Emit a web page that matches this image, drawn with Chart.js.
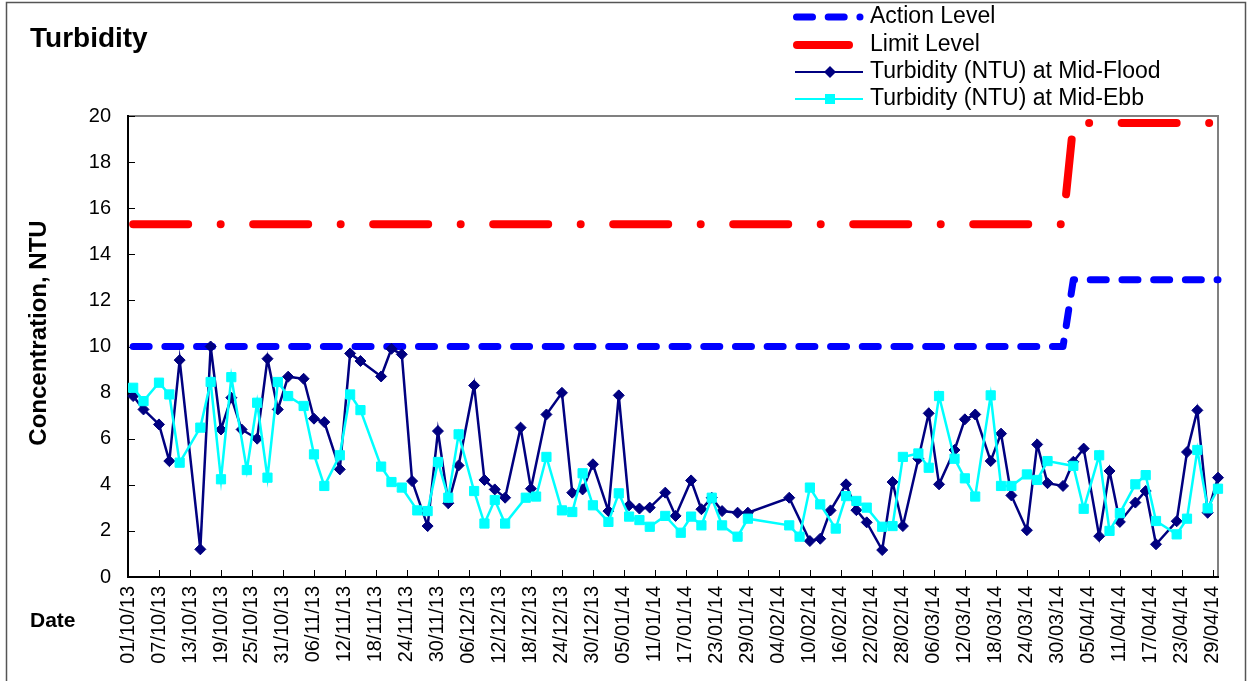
<!DOCTYPE html>
<html>
<head>
<meta charset="utf-8">
<title>Turbidity</title>
<script src="https://cdn.jsdelivr.net/npm/chart.js@4.4.0/dist/chart.umd.min.js"></script>
<style>
  html, body { margin: 0; padding: 0; background: #fff; }
  #wrap { width: 1248px; height: 681px; }
</style>
</head>
<body>
<div id="wrap"><canvas id="chart" width="1248" height="681"></canvas></div>
<script>
// sampling dates are dd/mm/yy, the axis starts on 01/10/13
let floodDates = [
  '02/10/13','04/10/13','07/10/13','09/10/13','11/10/13','15/10/13','17/10/13','19/10/13','21/10/13','23/10/13','26/10/13','28/10/13','30/10/13',
  '01/11/13','04/11/13','06/11/13','08/11/13','11/11/13','13/11/13','15/11/13','19/11/13','21/11/13','23/11/13','25/11/13','28/11/13','30/11/13',
  '02/12/13','04/12/13','07/12/13','09/12/13','11/12/13','13/12/13','16/12/13','18/12/13','21/12/13','24/12/13','26/12/13','28/12/13','30/12/13',
  '02/01/14','04/01/14','06/01/14','08/01/14','10/01/14','13/01/14','15/01/14','18/01/14','20/01/14','22/01/14','24/01/14','27/01/14','29/01/14',
  '06/02/14','10/02/14','12/02/14','14/02/14','17/02/14','19/02/14','21/02/14','24/02/14','26/02/14','28/02/14',
  '03/03/14','05/03/14','07/03/14','10/03/14','12/03/14','14/03/14','17/03/14','19/03/14','21/03/14','24/03/14','26/03/14','28/03/14','31/03/14',
  '02/04/14','04/04/14','07/04/14','09/04/14','11/04/14','14/04/14','16/04/14','18/04/14','22/04/14','24/04/14','26/04/14','28/04/14','30/04/14'
];
let floodValues = [
  7.85, 7.27, 6.62, 5.03, 9.41, 1.20, 10.0, 6.40, 7.78, 6.40, 6.0, 9.47, 7.27,
  8.69, 8.60, 6.87, 6.72, 4.67, 9.70, 9.37, 8.70, 9.90, 9.66, 4.16, 2.21, 6.33,
  3.20, 4.84, 8.31, 4.21, 3.80, 3.44, 6.48, 3.83, 7.05, 7.99, 3.66, 3.80, 4.89,
  2.86, 7.88, 3.11, 2.97, 3.01, 3.66, 2.65, 4.19, 2.94, 3.44, 2.86, 2.79, 2.79,
  3.44, 1.56, 1.66, 2.89, 4.02, 2.90, 2.37, 1.17, 4.12, 2.21,
  5.13, 7.10, 4.02, 5.51, 6.84, 7.05, 5.03, 6.22, 3.54, 2.03, 5.75, 4.07, 3.95,
  5.0, 5.57, 1.77, 4.6, 2.39, 3.23, 3.73, 1.42, 2.42, 5.42, 7.23, 2.79, 4.31
];
let ebbDates = [
  '02/10/13','04/10/13','07/10/13','09/10/13','11/10/13','15/10/13','17/10/13','19/10/13','21/10/13','24/10/13','26/10/13','28/10/13','30/10/13',
  '01/11/13','04/11/13','06/11/13','08/11/13','11/11/13','13/11/13','15/11/13','19/11/13','21/11/13','23/11/13','26/11/13','28/11/13','30/11/13',
  '02/12/13','04/12/13','07/12/13','09/12/13','11/12/13','13/12/13','17/12/13','19/12/13','21/12/13','24/12/13','26/12/13','28/12/13','30/12/13',
  '02/01/14','04/01/14','06/01/14','08/01/14','10/01/14','13/01/14','16/01/14','18/01/14','20/01/14','22/01/14','24/01/14','27/01/14','29/01/14',
  '06/02/14','08/02/14','10/02/14','12/02/14','15/02/14','17/02/14','19/02/14','21/02/14','24/02/14','26/02/14','28/02/14',
  '03/03/14','05/03/14','07/03/14','10/03/14','12/03/14','14/03/14','17/03/14','19/03/14','21/03/14','24/03/14','26/03/14','28/03/14',
  '02/04/14','04/04/14','07/04/14','09/04/14','11/04/14','14/04/14','16/04/14','18/04/14','22/04/14','24/04/14','26/04/14','28/04/14','30/04/14'
];
let ebbValues = [
  8.21, 7.63, 8.43, 7.92, 4.96, 6.48, 8.46, 4.24, 8.67, 4.64, 7.56, 4.31, 8.46,
  7.85, 7.42, 5.32, 3.95, 5.28, 7.92, 7.24, 4.79, 4.12, 3.88, 2.89, 2.86, 4.99,
  3.44, 6.19, 3.73, 2.32, 3.34, 2.32, 3.44, 3.49, 5.21, 2.89, 2.82, 4.50, 3.11,
  2.39, 3.63, 2.62, 2.47, 2.18, 2.65, 1.92, 2.62, 2.24, 3.44, 2.24, 1.75, 2.53,
  2.24, 1.75, 3.88, 3.15, 2.10, 3.51, 3.30, 3.01, 2.18, 2.21, 5.21,
  5.36, 4.74, 7.85, 5.13, 4.28, 3.49, 7.88, 3.95, 3.95, 4.45, 4.21, 5.03,
  4.82, 2.96, 5.28, 2.0, 2.77, 4.02, 4.42, 2.43, 1.85, 2.53, 5.51, 2.98, 3.83
];
let actionDates = ['02/10/13', '31/03/14', '02/04/14', '30/04/14'];
let actionValues = [10, 10, 12.9, 12.9];
let limitDates = ['02/10/13', '31/03/14', '02/04/14', '30/04/14'];
let limitValues = [15.3, 15.3, 19.7, 19.7];

let xTickLabels = [
  '01/10/13','07/10/13','13/10/13','19/10/13','25/10/13','31/10/13',
  '06/11/13','12/11/13','18/11/13','24/11/13','30/11/13',
  '06/12/13','12/12/13','18/12/13','24/12/13','30/12/13',
  '05/01/14','11/01/14','17/01/14','23/01/14','29/01/14',
  '04/02/14','10/02/14','16/02/14','22/02/14','28/02/14',
  '06/03/14','12/03/14','18/03/14','24/03/14','30/03/14',
  '05/04/14','11/04/14','17/04/14','23/04/14','29/04/14'
];
let xEnd = '30/04/14';
let yTicks = [0, 2, 4, 6, 8, 10, 12, 14, 16, 18, 20];

const FONT = 'Liberation Sans, Arial, sans-serif';

// days since 01/10/13
function toDay(s) {
  let p = s.split('/');
  let t = Date.UTC(2000 + Number(p[2]), Number(p[1]) - 1, Number(p[0]));
  return Math.round((t - Date.UTC(2013, 9, 1)) / 86400000);
}
function points(dates, values) {
  return dates.map((d, i) => ({ x: toDay(d), y: values[i] }));
}

const decor = {
  id: 'decor',
  beforeDraw(chart) {
    const ctx = chart.ctx;
    ctx.save();
    ctx.fillStyle = '#fff';
    ctx.fillRect(0, 0, chart.width, chart.height);
    ctx.strokeStyle = '#555';
    ctx.lineWidth = 1.5;
    ctx.strokeRect(6.5, 2.5, 1239, 720);
    ctx.restore();
  },
  beforeDatasetsDraw(chart) {
    const ctx = chart.ctx, a = chart.chartArea;
    const xs = chart.scales.x, ys = chart.scales.y;
    ctx.save();
    // frame of the plot area
    ctx.strokeStyle = '#808080';
    ctx.lineWidth = 2;
    ctx.beginPath();
    ctx.moveTo(a.left, a.top);
    ctx.lineTo(a.right, a.top);
    ctx.lineTo(a.right, a.bottom);
    ctx.stroke();
    ctx.strokeStyle = '#000';
    ctx.beginPath();
    ctx.moveTo(a.left, a.top - 1);
    ctx.lineTo(a.left, a.bottom);
    ctx.lineTo(a.right + 1, a.bottom);
    ctx.stroke();
    // tick marks point inwards
    ctx.lineWidth = 1;
    ctx.beginPath();
    xs.ticks.forEach(t => {
      let px = Math.round(xs.getPixelForValue(t.value)) + 0.5;
      ctx.moveTo(px, a.bottom);
      ctx.lineTo(px, a.bottom - 7);
    });
    ys.ticks.forEach(t => {
      let py = Math.round(ys.getPixelForValue(t.value)) + 0.5;
      ctx.moveTo(a.left, py);
      ctx.lineTo(a.left + 7, py);
    });
    ctx.stroke();
    ctx.restore();
  },
  afterDraw(chart) {
    const ctx = chart.ctx;
    ctx.save();
    ctx.fillStyle = '#000';
    ctx.textAlign = 'left';
    ctx.textBaseline = 'alphabetic';
    ctx.font = 'bold 28px ' + FONT;
    ctx.fillText('Turbidity', 30, 47);
    ctx.font = 'bold 21px ' + FONT;
    ctx.textBaseline = 'middle';
    ctx.fillText('Date', 30, 621);

    // y axis title
    ctx.save();
    ctx.translate(39, 333);
    ctx.rotate(-Math.PI / 2);
    ctx.textAlign = 'center';
    ctx.font = 'bold 24px ' + FONT;
    ctx.fillText('Concentration, NTU', 0, 0);
    ctx.restore();

    // legend
    ctx.lineCap = 'round';
    ctx.strokeStyle = '#0000ff';
    ctx.lineWidth = 7;
    ctx.setLineDash([16, 15.7]);
    ctx.beginPath(); ctx.moveTo(796.5, 17); ctx.lineTo(860, 17); ctx.stroke();
    ctx.setLineDash([]);
    ctx.strokeStyle = '#ff0000';
    ctx.lineWidth = 8;
    ctx.beginPath(); ctx.moveTo(797, 45); ctx.lineTo(849, 45); ctx.stroke();
    ctx.lineCap = 'butt';
    ctx.lineWidth = 2;
    ctx.strokeStyle = '#000080';
    ctx.beginPath(); ctx.moveTo(795, 72); ctx.lineTo(863, 72); ctx.stroke();
    ctx.fillStyle = '#000080';
    ctx.beginPath();
    ctx.moveTo(830, 66); ctx.lineTo(836, 72); ctx.lineTo(830, 78); ctx.lineTo(824, 72);
    ctx.closePath(); ctx.fill();
    ctx.strokeStyle = '#00ffff';
    ctx.beginPath(); ctx.moveTo(795, 99); ctx.lineTo(863, 99); ctx.stroke();
    ctx.fillStyle = '#00ffff';
    ctx.fillRect(825, 94, 10, 10);

    ctx.fillStyle = '#000';
    ctx.font = '23px ' + FONT;
    ctx.textBaseline = 'middle';
    ctx.fillText('Action Level', 870, 17);
    ctx.fillText('Limit Level', 870, 45);
    ctx.fillText('Turbidity (NTU) at Mid-Flood', 870, 72);
    ctx.fillText('Turbidity (NTU) at Mid-Ebb', 870, 99);
    ctx.restore();
  }
};

Chart.defaults.font.family = FONT;
Chart.defaults.color = '#000';

new Chart(document.getElementById('chart'), {
  type: 'line',
  data: {
    datasets: [
      {
        label: 'Turbidity (NTU) at Mid-Ebb',
        data: points(ebbDates, ebbValues),
        borderColor: '#00ffff',
        backgroundColor: '#00ffff',
        borderWidth: 2.5,
        pointStyle: 'rect',
        pointRadius: 6.5,
        pointBorderWidth: 1,
        pointBorderColor: '#00ffff',
        clip: false,
        order: 1
      },
      {
        label: 'Turbidity (NTU) at Mid-Flood',
        data: points(floodDates, floodValues),
        borderColor: '#000080',
        backgroundColor: '#000080',
        borderWidth: 2.5,
        pointStyle: 'rectRot',
        pointRadius: 5.5,
        pointBorderWidth: 1,
        pointBorderColor: '#000080',
        clip: false,
        order: 2
      },
      {
        label: 'Action Level',
        data: points(actionDates, actionValues),
        borderColor: '#0000ff',
        borderWidth: 7,
        borderDash: [16, 15.7],
        borderCapStyle: 'round',
        borderJoinStyle: 'round',
        pointRadius: 0,
        clip: false,
        order: 3
      },
      {
        label: 'Limit Level',
        data: points(limitDates, limitValues),
        borderColor: '#ff0000',
        borderWidth: 8,
        borderDash: [55, 32.5, 0.01, 32.5],
        borderCapStyle: 'round',
        borderJoinStyle: 'round',
        pointRadius: 0,
        clip: false,
        order: 4
      }
    ]
  },
  options: {
    responsive: false,
    animation: false,
    devicePixelRatio: 1,
    layout: { padding: { left: 20, right: 30, top: 116, bottom: 0 } },
    plugins: {
      legend: { display: false },
      title: { display: false },
      tooltip: { enabled: false }
    },
    scales: {
      x: {
        type: 'linear',
        min: 0,
        max: toDay(xEnd),
        grid: { display: false, drawTicks: false },
        border: { display: false },
        afterBuildTicks: scale => {
          scale.ticks = xTickLabels.map(s => ({ value: toDay(s) }));
        },
        afterFit: scale => { scale.height = 104; },
        ticks: {
          autoSkip: false,
          minRotation: 90,
          maxRotation: 90,
          padding: 9,
          font: { size: 20 },
          callback: (value, index) => xTickLabels[index]
        }
      },
      y: {
        min: 0,
        max: 20,
        grid: { display: false, drawTicks: false },
        border: { display: false },
        afterBuildTicks: scale => {
          scale.ticks = yTicks.map(v => ({ value: v }));
        },
        afterFit: scale => { scale.width = 108; },
        ticks: {
          padding: 17,
          font: { size: 20 },
          callback: value => value
        }
      }
    }
  },
  plugins: [decor]
});
</script>
</body>
</html>
